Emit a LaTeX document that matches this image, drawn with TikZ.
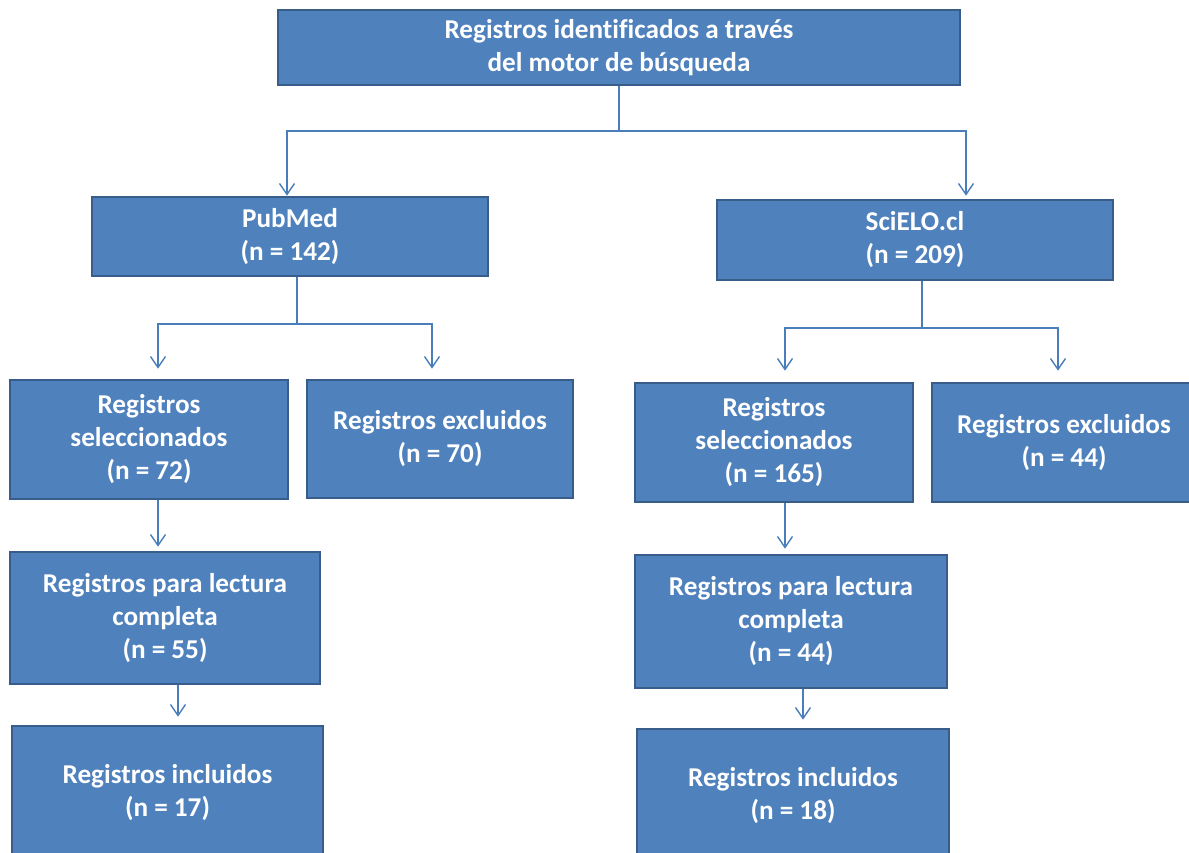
\documentclass[tikz,border=0pt]{standalone}
\usepackage{fontspec}
\setmainfont[Ligatures=NoCommon]{Carlito}
\usetikzlibrary{arrows.meta}
\definecolor{boxfill}{HTML}{4F81BD}
\definecolor{boxline}{HTML}{385D8A}
\definecolor{wirecol}{HTML}{4A7EBB}
\tikzset{box/.style={
    draw=boxline,
    fill=boxfill,
    line width=2.6pt,
    text=white,
    align=center,
    inner sep=0pt,
    font=\bfseries\fontsize{27.2}{33}\selectfont,
    },
    wire/.style={draw=wirecol, line width=1.4pt},
    link/.style={wire, -{Straight Barb[length=11pt,width=15pt,line width=1.4pt]}},
}

\begin{document}
\begin{tikzpicture}[x=1pt,y=-1pt]
\clip (0,0) rectangle (1189,853);
\useasboundingbox (0,0) rectangle (1189,853);
\node[box, minimum width=682pt, minimum height=75pt] (top) at (619,47.5) {Registros identificados a través\\del motor de búsqueda}; % buscador
\node[box, minimum width=396pt, minimum height=79pt] (pub) at (290,236.5) {PubMed\\(n = 142)};
\node[box, minimum width=396pt, minimum height=80pt] (sci) at (915,240) {SciELO.cl\\(n = 209)};
\node[box, minimum width=278pt, minimum height=119pt] (pubsel) at (149,439.5) {Registros\\seleccionados\\(n = 72)};
\node[box, minimum width=266pt, minimum height=118pt] (pubexc) at (440,439) {Registros excluidos\\(n = 70)};
\node[box, minimum width=278pt, minimum height=119pt] (scisel) at (774,442.5) {Registros\\seleccionados\\(n = 165)};
\node[box, minimum width=264pt, minimum height=119pt] (sciexc) at (1064,442.5) {Registros excluidos\\(n = 44)};
\node[box, minimum width=310pt, minimum height=132pt] (publec) at (165,618) {Registros para lectura\\completa\\(n = 55)};
\node[box, minimum width=312pt, minimum height=133pt] (scilec) at (791,621.5) {Registros para lectura\\completa\\(n = 44)};
\node[box, minimum width=311pt, minimum height=134pt] (pubinc) at (167.5,793) {Registros incluidos\\(n = 17)};
\node[box, minimum width=312pt, minimum height=133pt] (sciinc) at (793,795.5) {Registros incluidos\\(n = 18)};
% first split
\coordinate (tsplit) at (619,131);
\draw[wire] (top.south) -- (tsplit);
\draw[link] (tsplit) -| ([xshift=-3pt]pub.north);
\draw[link, shorten >=3pt] (tsplit) -| ([xshift=51pt]sci.north);
% PubMed split
\draw[wire] ([xshift=7pt]pub.south) coordinate (pstem) -- (pstem |- 0,324) coordinate (psplit);
\draw[link, shorten >=10pt] (psplit) -| ([xshift=9pt]pubsel.north);
\draw[link, shorten >=10pt] (psplit) -| ([xshift=-8pt]pubexc.north);
% SciELO split
\draw[wire] ([xshift=7pt]sci.south) coordinate (sstem) -- (sstem |- 0,328) coordinate (ssplit);
\draw[link, shorten >=11pt] (ssplit) -| ([xshift=11pt]scisel.north);
\draw[link, shorten >=11pt] (ssplit) -| ([xshift=-6pt]sciexc.north);
% down the columns
\draw[link, shorten >=4pt] ([xshift=9pt]pubsel.south) coordinate (a1) -- (a1 |- publec.north);
\draw[link, shorten >=8pt] ([xshift=13pt]publec.south) coordinate (a2) -- (a2 |- pubinc.north);
\draw[link, shorten >=5pt] ([xshift=11pt]scisel.south) coordinate (a3) -- (a3 |- scilec.north);
\draw[link, shorten >=8pt] ([xshift=12pt]scilec.south) coordinate (a4) -- (a4 |- sciinc.north);
\end{tikzpicture}
\end{document}
